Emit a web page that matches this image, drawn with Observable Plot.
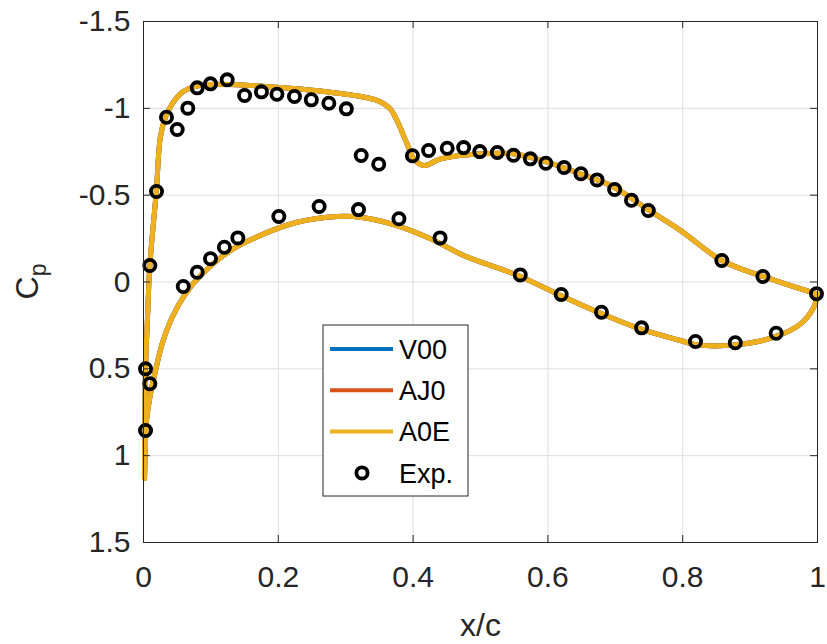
<!DOCTYPE html>
<html>
<head>
<meta charset="utf-8">
<script src="https://cdn.jsdelivr.net/npm/d3@7"></script>
<script src="https://cdn.jsdelivr.net/npm/@observablehq/plot@0.6"></script>
<style>
  html, body { margin: 0; padding: 0; background: #fff; }
  #chart svg { display: block; }
</style>
</head>
<body>
<div id="chart"></div>
<script>
// Axis ticks
const xTicks = [0, 0.2, 0.4, 0.6, 0.8, 1];
const yTicks = [-1.5, -1, -0.5, 0, 0.5, 1, 1.5];

// Computed pressure coefficient, upper surface (leading edge -> trailing edge)
const upperX  = [0.0015, 0.002, 0.003, 0.006, 0.0094, 0.019, 0.025, 0.0326, 0.0426, 0.0574, 0.0722, 0.097, 0.161, 0.198, 0.277, 0.347, 0.366, 0.376, 0.391, 0.401, 0.416, 0.441, 0.5, 0.549, 0.599, 0.648, 0.698, 0.747, 0.797, 0.858, 0.919, 1.0];
const upperCp = [1.131, 0.855, 0.498, 0.2, -0.095, -0.523, -0.834, -0.949, -1.026, -1.093, -1.121, -1.137, -1.131, -1.121, -1.093, -1.045, -0.997, -0.93, -0.796, -0.709, -0.671, -0.709, -0.738, -0.738, -0.69, -0.623, -0.546, -0.421, -0.296, -0.124, -0.032, 0.07];

// Computed pressure coefficient, lower surface (leading edge -> trailing edge)
const lowerX  = [0.0015, 0.0045, 0.0104, 0.0178, 0.0277, 0.0426, 0.0623, 0.0871, 0.129, 0.1785, 0.228, 0.2874, 0.327, 0.376, 0.426, 0.475, 0.559, 0.619, 0.678, 0.737, 0.797, 0.8215, 0.878, 0.935, 0.975, 0.9945, 1.0];
const lowerCp = [1.131, 0.797, 0.644, 0.51, 0.356, 0.203, 0.068, -0.047, -0.181, -0.277, -0.344, -0.377, -0.37, -0.325, -0.249, -0.153, -0.032, 0.078, 0.18, 0.27, 0.337, 0.362, 0.362, 0.318, 0.241, 0.145, 0.07];

// Experimental data
const expX  = [0.003, 0.0094, 0.003, 0.0094, 0.0193, 0.0341, 0.05, 0.0657, 0.0797, 0.0994, 0.1242, 0.15, 0.175, 0.198, 0.224, 0.249, 0.275, 0.301, 0.323, 0.349, 0.399, 0.423, 0.4506, 0.475, 0.499, 0.525, 0.549, 0.574, 0.597, 0.624, 0.649, 0.673, 0.699, 0.724, 0.749, 0.858, 0.919, 0.9985,
               0.059, 0.0797, 0.0994, 0.12, 0.14, 0.2008, 0.2606, 0.319, 0.379, 0.44, 0.559, 0.6197, 0.6795, 0.739, 0.819, 0.878, 0.9387];
const expCp = [0.855, 0.586, 0.5, -0.095, -0.521, -0.949, -0.878, -1.001, -1.118, -1.141, -1.164, -1.074, -1.095, -1.081, -1.068, -1.049, -1.029, -0.997, -0.728, -0.678, -0.727, -0.757, -0.77, -0.774, -0.751, -0.746, -0.73, -0.709, -0.684, -0.659, -0.623, -0.588, -0.533, -0.471, -0.412, -0.124, -0.032, 0.068,
               0.026, -0.056, -0.134, -0.2, -0.254, -0.377, -0.435, -0.417, -0.364, -0.254, -0.041, 0.072, 0.174, 0.264, 0.343, 0.35, 0.295];

const seriesNames  = ["V00", "AJ0", "A0E"];
const seriesColors = ["#0072BD", "#D95319", "#EDB120"];

// One closed contour per series: trailing edge -> leading edge along the upper side, back along the lower side
const contour = [];
for (let i = upperX.length - 1; i >= 0; i--) contour.push({x: upperX[i], cp: upperCp[i]});
for (let i = 1; i < lowerX.length; i++) contour.push({x: lowerX[i], cp: lowerCp[i]});
const lines = seriesNames.flatMap(s => contour.map(d => ({...d, series: s})));
const exp = expX.map((x, i) => ({x, cp: expCp[i]}));

const FONT = "'Liberation Sans', Arial, Helvetica, sans-serif";
const W = 827, H = 644, mL = 143, mR = 10, mT = 21, mB = 102;
const innerW = W - mL - mR, innerH = H - mT - mB, tick = 7;
const axisColor = "#262626";
const dotR = 5.6, dotStroke = 3.8;

const chart = Plot.plot({
  width: W, height: H,
  marginLeft: mL, marginRight: mR, marginTop: mT, marginBottom: mB,
  style: {fontFamily: FONT, background: "#fff", color: axisColor},
  x: {domain: [0, 1]},
  y: {domain: [-1.5, 1.5], reverse: true},
  color: {domain: seriesNames, range: seriesColors},
  marks: [
    Plot.gridX(xTicks, {stroke: "#dedede", strokeOpacity: 1, strokeWidth: 1}),
    Plot.gridY(yTicks, {stroke: "#dedede", strokeOpacity: 1, strokeWidth: 1}),
    Plot.line(lines, {x: "x", y: "cp", z: "series", stroke: "series", strokeWidth: 5, curve: "catmull-rom"}),
    Plot.dot(exp, {x: "x", y: "cp", r: dotR, stroke: "#000", strokeWidth: dotStroke, fill: "none"}),
    Plot.frame({stroke: axisColor, strokeWidth: 1}),
    // inward ticks on all four sides
    Plot.tickX(xTicks, {x: d => d, stroke: axisColor, insetTop: innerH - tick}),
    Plot.tickX(xTicks, {x: d => d, stroke: axisColor, insetBottom: innerH - tick}),
    Plot.tickY(yTicks, {y: d => d, stroke: axisColor, insetRight: innerW - tick}),
    Plot.tickY(yTicks, {y: d => d, stroke: axisColor, insetLeft: innerW - tick}),
    Plot.axisX(xTicks, {tickSize: 0, tickPadding: 23, fontSize: 30, label: null, tickFormat: d => String(d), fill: axisColor}),
    Plot.axisY(yTicks, {tickSize: 0, tickPadding: 13, fontSize: 30, label: null, tickFormat: d => String(d), fill: axisColor}),
    Plot.text(["x/c"], {frameAnchor: "bottom", dy: 83, text: d => d, fontSize: 32, fill: axisColor, lineAnchor: "middle"})
  ]
});

document.getElementById("chart").appendChild(chart);

const svg = d3.select(chart);

// y-axis label C_p with subscript
const yl = svg.append("text")
  .attr("transform", `translate(38,${mT + innerH / 2}) rotate(-90)`)
  .attr("text-anchor", "middle")
  .attr("font-family", FONT)
  .attr("font-size", 32)
  .attr("fill", axisColor);
yl.append("tspan").text("C");
yl.append("tspan").attr("dy", 8).attr("font-size", 23).text("p");

// Legend box
const lg = svg.append("g").attr("font-family", FONT).attr("text-anchor", "start");
const lx = 323, ly = 325, lw = 145, lh = 171;
lg.append("rect").attr("x", lx).attr("y", ly).attr("width", lw).attr("height", lh)
  .attr("fill", "#fff").attr("stroke", axisColor).attr("stroke-width", 1);
const entries = [
  ...seriesNames.map((s, i) => ({label: s, color: seriesColors[i], kind: "line"})),
  {label: "Exp.", color: "#000", kind: "dot"}
];
entries.forEach((e, i) => {
  const cy = 349 + i * 41.3;
  if (e.kind === "line") {
    lg.append("line").attr("x1", 330).attr("x2", 393).attr("y1", cy).attr("y2", cy)
      .attr("stroke", e.color).attr("stroke-width", 4);
  } else {
    lg.append("circle").attr("cx", 362).attr("cy", cy).attr("r", dotR)
      .attr("fill", "none").attr("stroke", e.color).attr("stroke-width", dotStroke);
  }
  lg.append("text").attr("x", 399).attr("y", cy).attr("dy", "0.36em")
    .attr("font-size", 27).attr("fill", "#000").text(e.label);
});
</script>
</body>
</html>
